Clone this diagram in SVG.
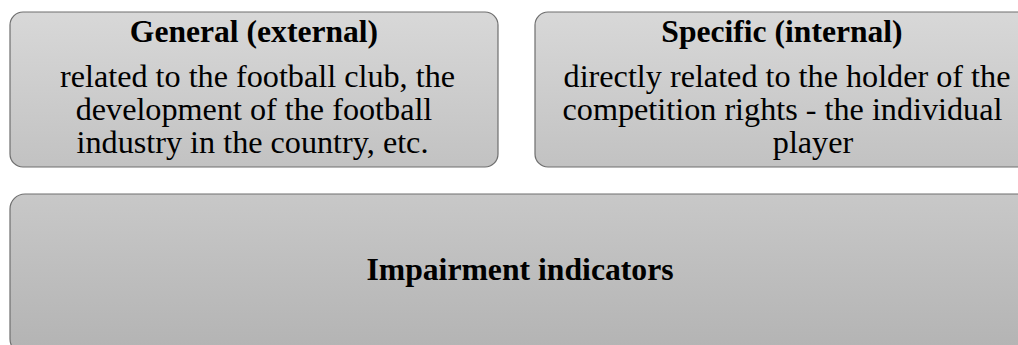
<svg xmlns="http://www.w3.org/2000/svg" width="1018" height="345" viewBox="0 0 1018 345">
<defs>
<linearGradient id="g1" x1="0" y1="0" x2="0" y2="1">
<stop offset="0" stop-color="#d8d8d8"/>
<stop offset="1" stop-color="#c2c2c2"/>
</linearGradient>
<linearGradient id="g2" x1="0" y1="0" x2="0" y2="1">
<stop offset="0" stop-color="#c8c8c8"/>
<stop offset="1" stop-color="#b3b3b3"/>
</linearGradient>
</defs>
<rect width="1018" height="345" fill="#ffffff"/>
<g id="general">
<rect x="10" y="12" width="488" height="155" rx="13" fill="url(#g1)" stroke="#6e6e6e" stroke-width="1.2"/>
<text x="254" y="42" font-family="Liberation Serif" font-size="31.6" font-weight="bold" text-anchor="middle">General (external)</text>
<text x="257.5" y="87" font-family="Liberation Serif" font-size="32.2" text-anchor="middle">related to the football club, the</text>
<text x="254" y="120" font-family="Liberation Serif" font-size="32.2" text-anchor="middle">development of the football</text>
<text x="252.5" y="153" font-family="Liberation Serif" font-size="32.2" text-anchor="middle">industry in the country, etc.</text>
</g>
<g id="specific">
<rect x="535" y="12" width="500" height="155" rx="13" fill="url(#g1)" stroke="#6e6e6e" stroke-width="1.2"/>
<text x="782" y="42" font-family="Liberation Serif" font-size="31.6" font-weight="bold" text-anchor="middle">Specific (internal)</text>
<text x="787" y="87" font-family="Liberation Serif" font-size="32.2" text-anchor="middle">directly related to the holder of the</text>
<text x="782.5" y="120" font-family="Liberation Serif" font-size="32.2" text-anchor="middle">competition rights - the individual</text>
<text x="813" y="153" font-family="Liberation Serif" font-size="32.2" text-anchor="middle">player</text>
</g>
<g id="impairment">
<rect x="10" y="194" width="1030" height="160" rx="15" fill="url(#g2)" stroke="#6e6e6e" stroke-width="1.2"/>
<text x="520" y="280" font-family="Liberation Serif" font-size="31.7" font-weight="bold" text-anchor="middle">Impairment indicators</text>
</g>
<g id="connectors"></g>
</svg>
